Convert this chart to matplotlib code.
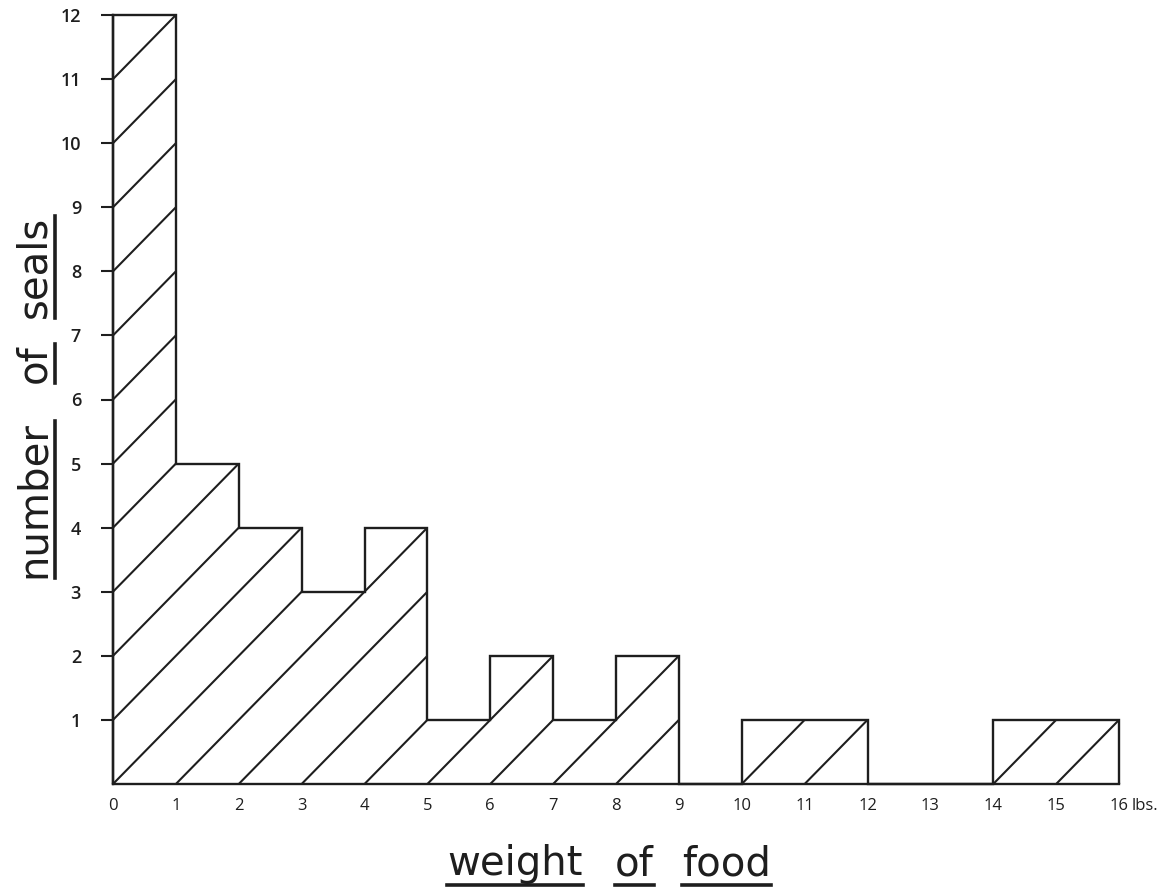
import matplotlib
matplotlib.use("Agg")
import matplotlib.pyplot as plt
from matplotlib.patches import Polygon
from matplotlib.lines import Line2D
from matplotlib.transforms import offset_copy

# ---- data ----
bin_edges = [0, 1, 2, 3, 4, 5, 6, 7, 8, 9, 10, 11, 12, 13, 14, 15, 16]
counts = [12, 5, 4, 3, 4, 1, 2, 1, 2, 0, 1, 1, 0, 0, 1, 1]
x_ticks = [0, 1, 2, 3, 4, 5, 6, 7, 8, 9, 10, 11, 12, 13, 14, 15, 16]
x_tick_labels = ["0", "1", "2", "3", "4", "5", "6", "7", "8", "9", "10",
                 "11", "12", "13", "14", "15", "16"]
y_ticks = [1, 2, 3, 4, 5, 6, 7, 8, 9, 10, 11, 12]
y_tick_labels = ["1", "2", "3", "4", "5", "6", "7", "8", "9", "10", "11", "12"]
x_unit = "lbs."
x_words = ["weight", "of", "food"]
y_words = ["number", "of", "seals"]

FONT = "Open Sans"
LABEL_FONT = "DejaVu Sans"
INK = "#1e1e1e"
fig = plt.figure(figsize=(11.69, 8.92), dpi=100)
W, H = 1169, 892
ax = fig.add_axes([113 / W, 1 - 784 / H, (1119 - 113) / W, (784 - 15) / H])
ax.set_xlim(bin_edges[0], bin_edges[-1])
ax.set_ylim(0, max(counts))

# step outline of the histogram
ax.stairs(counts, bin_edges, baseline=0, fill=False, color=INK,
          linewidth=1.7, clip_on=False, zorder=3)

# step polygon used to clip hatch lines
verts = [(bin_edges[0], 0)]
for a, b, c in zip(bin_edges[:-1], bin_edges[1:], counts):
    verts.append((a, c))
    verts.append((b, c))
verts.append((bin_edges[-1], 0))
clip = Polygon(verts, closed=True, transform=ax.transData,
               facecolor="none", edgecolor="none")
ax.add_patch(clip)

# hatch lines y = x + k for integer k
for k in range(-bin_edges[-1], max(counts) + 1):
    ln = Line2D([bin_edges[0], bin_edges[-1]],
                [bin_edges[0] + k, bin_edges[-1] + k],
                color=INK, linewidth=1.5, zorder=4)
    ax.add_line(ln)
    ln.set_clip_path(clip)

# spines
for s in ["top", "right"]:
    ax.spines[s].set_visible(False)
for s in ["left", "bottom"]:
    ax.spines[s].set_linewidth(1.7)
    ax.spines[s].set_color(INK)
    ax.spines[s].set_zorder(5)

ax.set_xticks(x_ticks)
ax.set_xticklabels(x_tick_labels, fontfamily=FONT, fontsize=12, color=INK)
ax.tick_params(axis="x", length=0, pad=10)
ax.set_yticks(y_ticks)
ax.set_yticklabels(y_tick_labels, fontfamily=FONT, fontsize=13,
                   fontweight="semibold", color=INK)
ax.tick_params(axis="y", length=9, width=1.5, pad=14, color=INK)

ax.text(x_ticks[-1] + 0.2, 0, x_unit,
        transform=offset_copy(ax.get_xaxis_transform(), fig=fig,
                              x=0, y=-10, units="points"),
        fontfamily=FONT, fontsize=12, ha="left", va="top", color=INK)

# axis labels with per-word underline
fig.canvas.draw()
r = fig.canvas.get_renderer()

x_word_starts = [447, 615, 682]      # px from left
y_word_starts = [578, 383, 318]      # px from top (bottom end of word)

def words_row(words, starts, base_y, size):
    for w, x in zip(words, starts):
        t = fig.text(x / W, 1 - base_y / H, w, fontfamily=LABEL_FONT,
                     fontsize=size, ha="left", va="baseline", color=INK)
        bb = t.get_window_extent(r)
        uy = 1 - (base_y + 10) / H
        fig.add_artist(Line2D([bb.x0 / W, bb.x1 / W], [uy, uy],
                              color=INK, linewidth=2.6,
                              transform=fig.transFigure))

def words_col(words, starts, base_x, size):
    for w, y in zip(words, starts):
        t = fig.text(base_x / W, 1 - y / H, w, fontfamily=LABEL_FONT,
                     fontsize=size, rotation=90, ha="left", va="baseline",
                     rotation_mode="anchor", color=INK)
        bb = t.get_window_extent(r)
        ux = (base_x + 10) / W
        fig.add_artist(Line2D([ux, ux], [bb.y0 / H, bb.y1 / H],
                              color=INK, linewidth=2.6,
                              transform=fig.transFigure))

words_row(x_words, x_word_starts, 875, 29)
words_col(y_words, y_word_starts, 45, 29)

fig.savefig("out.png", dpi=100)
